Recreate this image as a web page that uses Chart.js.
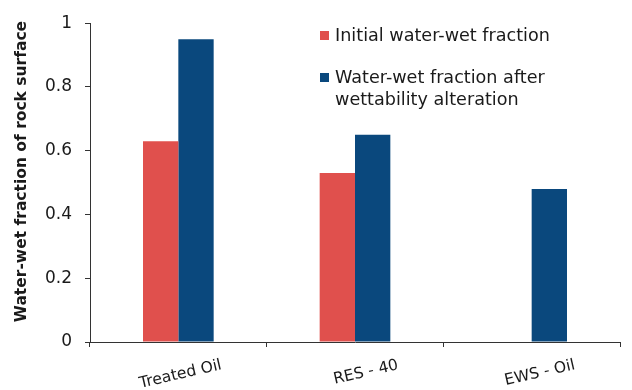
<!DOCTYPE html>
<html>
<head>
<meta charset="utf-8">
<style>
  html, body { margin: 0; padding: 0; background: #fff; }
  #wrap { width: 632px; height: 390px; position: relative; }
</style>
<script src="https://cdn.jsdelivr.net/npm/chart.js@4.4.1/dist/chart.umd.min.js"></script>
</head>
<body>
<div id="wrap"><canvas id="c" width="632" height="390"></canvas></div>
<script>
// Oil categories on the x axis
const categories = ['Treated Oil', 'RES - 40', 'EWS - Oil'];
// Water-wet fraction of the rock surface before and after wettability alteration
const initialFraction = [0.63, 0.53, null];
const alteredFraction = [0.95, 0.65, 0.48];
const seriesNames = ['Initial water-wet fraction', ['Water-wet fraction after', 'wettability alteration']];
const yTickLabels = ['0', '0.2', '0.4', '0.6', '0.8', '1'];
const yTitle = 'Water-wet fraction of rock surface';

const RED = '#E0504D';
const BLUE = '#0A487D';
const AXIS = '#333333';
const TEXT = '#1a1a1a';
const FONT = '"DejaVu Sans", Verdana, sans-serif';

// Draws the y title, the slanted category labels and the legend box
const decorations = {
  id: 'decorations',
  afterDraw(chart) {
    const ctx = chart.ctx;
    const area = chart.chartArea;
    const x = chart.scales.x;
    ctx.save();
    ctx.fillStyle = TEXT;

    // y-axis title
    ctx.save();
    ctx.translate(22, 171.5);
    ctx.rotate(-Math.PI / 2);
    ctx.font = 'bold 15.5px ' + FONT;
    ctx.textAlign = 'center';
    ctx.textBaseline = 'middle';
    ctx.fillText(yTitle, 0, 0);
    ctx.restore();

    // slanted category labels
    ctx.font = '15.6px ' + FONT;
    categories.forEach((c, i) => {
      const px = x.getPixelForValue(i);
      ctx.save();
      ctx.translate(px + 44, area.bottom + 27);
      ctx.rotate(-13 * Math.PI / 180);
      ctx.textAlign = 'right';
      ctx.textBaseline = 'alphabetic';
      ctx.fillText(c, 0, 0);
      ctx.restore();
    });

    // legend
    ctx.font = '17.6px ' + FONT;
    ctx.textAlign = 'left';
    ctx.textBaseline = 'middle';
    const rows = [35.5, 77.5];
    chart.data.datasets.forEach((ds, i) => {
      const y = rows[i];
      ctx.fillStyle = ds.backgroundColor;
      ctx.fillRect(320, y - 4.5, 9, 9);
      ctx.fillStyle = TEXT;
      const lines = Array.isArray(seriesNames[i]) ? seriesNames[i] : [seriesNames[i]];
      lines.forEach((ln, j) => ctx.fillText(ln, 335, y + 1 + j * 21.5));
    });
    ctx.restore();
  }
};

new Chart(document.getElementById('c'), {
  type: 'bar',
  data: {
    labels: categories,
    datasets: [
      { label: 'Initial water-wet fraction', data: initialFraction, backgroundColor: RED,
        categoryPercentage: 0.4, barPercentage: 1.0 },
      { label: 'Water-wet fraction after wettability alteration', data: alteredFraction, backgroundColor: BLUE,
        categoryPercentage: 0.4, barPercentage: 1.0 }
    ]
  },
  options: {
    responsive: false,
    animation: false,
    layout: { padding: { top: 20, right: 12, left: 0, bottom: 0 } },
    plugins: { legend: { display: false }, tooltip: { enabled: false } },
    scales: {
      x: {
        offset: true,
        grid: { display: true, drawOnChartArea: false, drawTicks: true, tickLength: 5, color: AXIS, offset: true },
        border: { display: true, color: AXIS, width: 1 },
        ticks: { display: false },
        afterFit(s) { s.height = 48; }
      },
      y: {
        min: 0, max: 1,
        grid: { display: true, drawOnChartArea: false, drawTicks: true, tickLength: 5, color: AXIS },
        border: { display: true, color: AXIS, width: 1 },
        ticks: {
          stepSize: 0.2, padding: 13, color: TEXT,
          font: { family: FONT, size: 17 },
          callback: (v, i) => yTickLabels[i]
        },
        afterFit(s) { s.width = 90; }
      }
    }
  },
  plugins: [decorations]
});
</script>
</body>
</html>
